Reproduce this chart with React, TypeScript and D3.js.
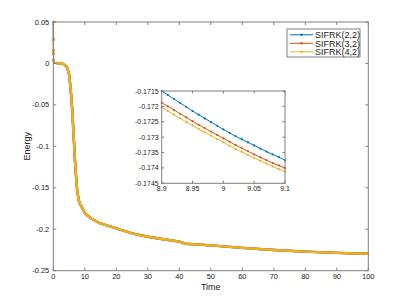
import React from 'react';
import * as d3 from 'd3';

// main curve (the three schemes coincide at this scale)
const mainTime = [0, 0.02, 0.04, 0.06, 0.1, 0.3, 1, 2, 3, 4, 4.5, 5, 5.5, 6, 6.5, 7, 7.5, 8, 8.5, 9, 10, 12, 15, 20, 25, 30, 35, 40, 42, 50, 60, 70, 80, 90, 100];
const mainEnergy = [0.05, 0.029, 0.0156, 0.0116, 0.004, 0.001, 0.0005, 0, -0.0005, -0.003, -0.006, -0.013, -0.03, -0.055, -0.09, -0.125, -0.15, -0.164, -0.17, -0.1727, -0.1805, -0.187, -0.193, -0.199, -0.205, -0.209, -0.212, -0.215, -0.2175, -0.2195, -0.2225, -0.225, -0.227, -0.2285, -0.2295];

// zoomed window 8.9..9.1
const zoomTime = [8.9, 8.91, 8.92, 8.93, 8.94, 8.95, 8.96, 8.97, 8.98, 8.99, 9.0, 9.01, 9.02, 9.03, 9.04, 9.05, 9.06, 9.07, 9.08, 9.09, 9.1];
const sifrk22 = [-0.1715, -0.17163, -0.17176, -0.17189, -0.17202, -0.17215, -0.17227, -0.17239, -0.17251, -0.17263, -0.17275, -0.17286, -0.17297, -0.17307, -0.17317, -0.17327, -0.17337, -0.17347, -0.17356, -0.17365, -0.17375];
const sifrk32 = [-0.17188, -0.172, -0.17212, -0.17224, -0.17236, -0.17248, -0.1726, -0.17271, -0.17282, -0.17293, -0.17304, -0.17315, -0.17326, -0.17336, -0.17346, -0.17356, -0.17366, -0.17375, -0.17384, -0.17392, -0.174];
const sifrk42 = [-0.17203, -0.17215, -0.17227, -0.17239, -0.17251, -0.17262, -0.17273, -0.17284, -0.17295, -0.17306, -0.17317, -0.17328, -0.17338, -0.17348, -0.17358, -0.17368, -0.17377, -0.17386, -0.17395, -0.17404, -0.17412];

const seriesNames = ['SIFRK(2,2)', 'SIFRK(3,2)', 'SIFRK(4,2)'];
const seriesColors = ['#0072BD', '#D95319', '#EDB120'];

const mainXTicks = [0, 10, 20, 30, 40, 50, 60, 70, 80, 90, 100];
const mainYTicks = [0.05, 0, -0.05, -0.1, -0.15, -0.2, -0.25];
const zoomXTicks = [8.9, 8.95, 9, 9.05, 9.1];
const zoomYTicks = [-0.1715, -0.172, -0.1725, -0.173, -0.1735, -0.174, -0.1745];

const FONT = 'Liberation Sans, Arial, sans-serif';
const AXIS = '#7f7f7f';

const App = () => {
  const x = d3.scaleLinear().domain([0, 100]).range([53.3, 368.3]);
  const y = d3.scaleLinear().domain([-0.25, 0.05]).range([270.7, 22]);

  const zx = d3.scaleLinear().domain([8.9, 9.1]).range([161.7, 285]);
  const zy = d3.scaleLinear().domain([-0.1745, -0.1715]).range([183.3, 91]);

  const mainLine = d3.line<number>().x((d, i) => x(mainTime[i])).y(d => y(d));
  const zoomLine = d3.line<number>().x((d, i) => zx(zoomTime[i])).y(d => zy(d));
  const zoomSeries = [sifrk22, sifrk32, sifrk42];

  const [x0, x1] = x.range();
  const [y0, y1] = y.range();
  const [zx0, zx1] = zx.range();
  const [zy0, zy1] = zy.range();

  return (
    <svg width={407} height={305} style={{ position: 'absolute', left: 0, top: 0, background: '#fff' }} fontFamily={FONT}>
      {/* main curves */}
      {seriesColors.map((c, k) => (
        <g key={k}>
          <path d={mainLine(mainEnergy.slice(0, 7)) || ''} fill="none" stroke={c} strokeWidth={1} />
          <path d={mainLine(mainEnergy.map((v, i) => (i < 6 ? NaN : v)).filter(v => !isNaN(v))) ? (d3.line<number>().x((d, i) => x(mainTime[i + 6])).y(d => y(d))(mainEnergy.slice(6)) || '') : ''} fill="none" stroke={c} strokeWidth={2.4} strokeLinejoin="round" />
          {mainEnergy.slice(0, 5).map((v, i) => (
            <circle key={i} cx={x(mainTime[i])} cy={y(v)} r={1.3} fill={c} />
          ))}
        </g>
      ))}

      {/* main axes box */}
      <rect x={x0} y={y1} width={x1 - x0} height={y0 - y1} fill="none" stroke={AXIS} strokeWidth={1} />
      {mainXTicks.map(t => (
        <g key={t}>
          <line x1={x(t)} x2={x(t)} y1={y0} y2={y0 - 3} stroke={AXIS} />
          <line x1={x(t)} x2={x(t)} y1={y1} y2={y1 + 3} stroke={AXIS} />
          <text x={x(t)} y={y0 + 8.5} fontSize={7.5} textAnchor="middle" fill="#222">{t}</text>
        </g>
      ))}
      {mainYTicks.map(t => (
        <g key={t}>
          <line x1={x0} x2={x0 + 3} y1={y(t)} y2={y(t)} stroke={AXIS} />
          <line x1={x1} x2={x1 - 3} y1={y(t)} y2={y(t)} stroke={AXIS} />
          <text x={x0 - 4} y={y(t) + 2.5} fontSize={7.5} textAnchor="end" fill="#222">{t}</text>
        </g>
      ))}
      <text x={(x0 + x1) / 2} y={289.5} fontSize={9} textAnchor="middle" fill="#222">Time</text>
      <text transform={`translate(30,${(y0 + y1) / 2}) rotate(-90)`} fontSize={9} textAnchor="middle" fill="#222">Energy</text>

      {/* inset */}
      <rect x={zx0} y={zy1} width={zx1 - zx0} height={zy0 - zy1} fill="#fff" />
      {zoomSeries.map((s, k) => (
        <g key={k}>
          <path d={zoomLine(s) || ''} fill="none" stroke={seriesColors[k]} strokeWidth={1} />
          {s.map((v, i) => (
            <circle key={i} cx={zx(zoomTime[i])} cy={zy(v)} r={1.1} fill={seriesColors[k]} />
          ))}
        </g>
      ))}
      <rect x={zx0} y={zy1} width={zx1 - zx0} height={zy0 - zy1} fill="none" stroke={AXIS} strokeWidth={1} />
      {zoomXTicks.map(t => (
        <g key={t}>
          <line x1={zx(t)} x2={zx(t)} y1={zy0} y2={zy0 - 2.5} stroke={AXIS} />
          <line x1={zx(t)} x2={zx(t)} y1={zy1} y2={zy1 + 2.5} stroke={AXIS} />
          <text x={zx(t)} y={zy0 + 7.5} fontSize={7} textAnchor="middle" fill="#222">{t}</text>
        </g>
      ))}
      {zoomYTicks.map(t => (
        <g key={t}>
          <line x1={zx0} x2={zx0 + 2.5} y1={zy(t)} y2={zy(t)} stroke={AXIS} />
          <line x1={zx1} x2={zx1 - 2.5} y1={zy(t)} y2={zy(t)} stroke={AXIS} />
          <text x={zx0 - 3} y={zy(t) + 2.5} fontSize={7} textAnchor="end" fill="#222">{t}</text>
        </g>
      ))}

      {/* legend */}
      <rect x={287} y={29} width={73} height={28} fill="#fff" stroke={AXIS} strokeWidth={1} />
      {seriesNames.map((n, k) => {
        const ly = 34.8 + k * 8.5;
        return (
          <g key={n}>
            <line x1={290} x2={313} y1={ly} y2={ly} stroke={seriesColors[k]} strokeWidth={1} />
            <circle cx={301.5} cy={ly} r={1.2} fill={seriesColors[k]} />
            <text x={315} y={ly + 3.2} fontSize={9} fill="#222">{n}</text>
          </g>
        );
      })}
    </svg>
  );
};

export default App;
